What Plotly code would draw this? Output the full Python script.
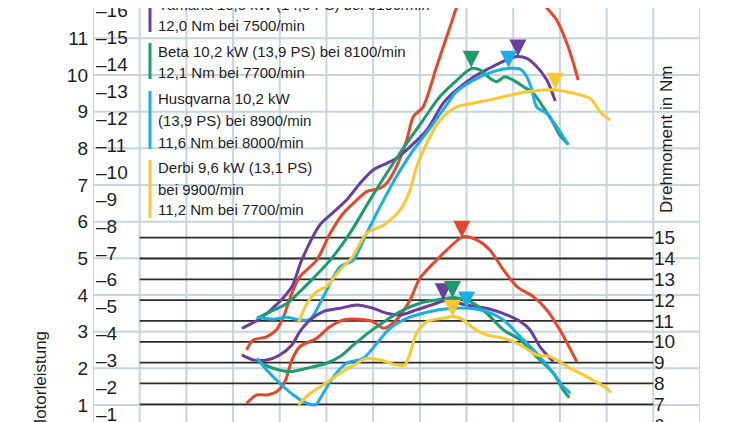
import plotly.graph_objects as go

# Leistungs- und Drehmomentkurven (Prüfstand)

W, H = 750, 422
OFF = 8                      # Seitenrand des Browsers (body margin)
L, R, T, B = 85, 58, 0, 0    # Plotfläche: 0 .. 13000 1/min

FONT = "Liberation Sans, Arial, sans-serif"
GRID = "#c5d4de"
INK = "#1e1e1e"

# --- Daten: Drehzahl (1/min), Leistung (kW), Drehmoment (Nm) ---
red_p_rpm = [3290, 3430, 3720, 3930, 4080, 4260, 4430, 4790, 5080, 5360, 5650, 5860, 6150, 6290,
             6500, 6720, 6860, 7070, 7360, 7650, 7860, 8290, 8720, 9000, 9230, 9470, 9510, 9570,
             9930, 10150, 10290, 10390]
red_p_kw = [2.50, 2.77, 2.86, 3.05, 3.41, 4.05, 4.50, 4.95, 5.68, 6.23, 6.59, 6.82, 6.91, 7.05,
            7.50, 8.23, 8.86, 9.13, 10.23, 11.32, 12.04, 12.53, 12.45, 12.04, 11.93, 12.04, 12.07, 12.02,
            11.50, 10.86, 10.32, 9.86]
red_t_rpm = [3290, 3510, 3720, 3930, 4110, 4260, 4430, 4790, 5080, 5360, 5720, 6000, 6220, 6500,
             6790, 7000, 7360, 7580, 7930, 8220, 8500, 8790, 9080, 9430, 9720, 10000, 10360]
red_t_nm = [7.05, 7.45, 7.45, 7.60, 8.08, 9.13, 9.77, 10.17, 10.73, 11.05, 11.08, 10.97, 10.65, 11.05,
            12.01, 13.05, 13.93, 14.41, 15.05, 14.89, 14.41, 13.45, 12.65, 12.17, 11.53, 10.57, 9.05]

yamaha_p_rpm = [3190, 3580, 4000, 4260, 4470, 4860, 5080, 5430, 5720, 6000, 6290, 6500, 6790, 7150,
                7500, 7710, 8140, 8500, 8860, 9080, 9290, 9500, 9720, 9900]
yamaha_p_kw = [3.09, 3.36, 3.82, 4.23, 4.95, 5.91, 6.18, 6.59, 7.05, 7.41, 7.59, 7.73, 8.04, 8.50,
               9.23, 9.51, 9.94, 10.19, 10.41, 10.50, 10.45, 10.23, 9.86, 9.29]
yamaha_t_rpm = [3190, 3430, 3720, 4000, 4260, 4430, 4650, 4930, 5290, 5650, 6000, 6290, 6580, 6930,
                7360, 7540, 8000, 8430, 8860, 9150, 9360, 9570, 9750, 9860]
yamaha_t_nm = [9.37, 9.13, 9.13, 9.37, 9.85, 10.49, 11.05, 11.45, 11.61, 11.77, 11.61, 11.37, 11.29, 11.53,
               11.85, 11.98, 11.77, 11.61, 11.29, 10.97, 10.57, 9.77, 9.29, 9.05]

beta_p_rpm = [3510, 3790, 4150, 4430, 4720, 5080, 5500, 5930, 6290, 6720, 7070, 7430, 7720, 8000,
              8110, 8290, 8500, 8650, 8820, 9000, 9220, 9430, 9640, 9860, 10000, 10170]
beta_p_kw = [3.36, 3.54, 3.77, 4.09, 4.46, 4.95, 5.68, 6.59, 7.32, 8.14, 8.77, 9.41, 9.77, 10.09,
             10.18, 10.14, 9.91, 9.82, 9.95, 9.86, 9.68, 9.50, 9.13, 8.68, 8.35, 8.12]
beta_t_rpm = [3540, 3860, 4220, 4580, 5000, 5290, 5580, 5930, 6290, 6650, 7000, 7360, 7720, 8080,
              8430, 8790, 9150, 9500, 9860, 10070, 10200]
beta_t_nm = [9.05, 8.73, 8.57, 8.73, 8.97, 9.29, 9.85, 10.49, 11.05, 11.53, 11.85, 12.01, 12.13, 11.93,
             11.37, 10.57, 10.09, 9.29, 8.49, 7.69, 7.32]

husq_p_rpm = [3510, 3860, 4150, 4430, 4650, 4860, 5080, 5290, 5570, 5860, 6150, 6500, 6860, 7220,
              7580, 7790, 8150, 8570, 8930, 9150, 9290, 9400, 9500, 9720, 9930, 10180]
husq_p_kw = [3.39, 3.34, 3.39, 3.32, 3.34, 3.77, 4.32, 4.77, 4.95, 5.68, 6.41, 7.23, 7.95, 8.55,
             9.20, 9.55, 9.86, 10.09, 10.18, 10.16, 9.95, 9.59, 9.13, 8.95, 8.59, 8.09]
husq_t_rpm = [3510, 3720, 4000, 4290, 4580, 4760, 4930, 5150, 5430, 5790, 6080, 6360, 6720, 7070,
              7500, 8080, 8430, 8790, 9150, 9500, 9860, 10070, 10220]
husq_t_nm = [9.21, 8.65, 8.01, 7.45, 7.05, 6.97, 7.53, 8.33, 8.97, 9.21, 9.93, 10.65, 11.13, 11.37,
             11.56, 11.61, 11.45, 11.05, 10.25, 9.45, 8.49, 7.85, 7.54]

derbi_p_rpm = [4400, 4580, 4790, 5000, 5290, 5540, 5860, 6220, 6580, 6790, 6930, 7150, 7360, 7500,
               7790, 8150, 8500, 8930, 9290, 9640, 9930, 10290, 10650, 10790, 10860, 11070]
derbi_p_kw = [3.23, 3.77, 4.09, 4.23, 4.68, 5.01, 5.68, 5.91, 6.32, 6.86, 7.50, 8.14, 8.64, 8.86,
              9.13, 9.23, 9.32, 9.45, 9.54, 9.59, 9.59, 9.50, 9.36, 9.13, 9.00, 8.77]
derbi_t_rpm = [4400, 4650, 4930, 5290, 5650, 5860, 6150, 6500, 6680, 6790, 6930, 7150, 7500, 7720,
               7930, 8150, 8430, 8790, 9150, 9500, 9790, 10220, 10570, 11000, 11090]
derbi_t_nm = [6.97, 7.53, 7.93, 8.49, 8.97, 9.21, 9.13, 8.89, 8.89, 9.45, 10.41, 10.97, 11.13, 11.21,
              11.05, 10.65, 10.33, 10.17, 9.85, 9.37, 9.29, 8.73, 8.33, 7.77, 7.56]

# Maxima (Dreiecke)
peak_kw_rpm = [9100, 8100, 8900, 9900]          # Yamaha, Beta, Husqvarna, Derbi
peak_kw = [10.5, 10.2, 10.2, 9.6]
peak_nm_rpm = [7900, 7500, 7700, 8000, 7700]    # rot, Yamaha, Beta, Husqvarna, Derbi
peak_nm = [15.0, 12.0, 12.1, 11.6, 11.2]

# Achsen
kw_ticks = list(range(1, 13))
ps_ticks = list(range(1, 17))
nm_ticks = list(range(6, 16))
nm_lines = list(range(7, 16))
rpm_grid = list(range(0, 13001, 1000))

legend_text = {
    "yamaha": ["Yamaha 10,5 kW (14,3 PS) bei 9100/min", "12,0 Nm bei 7500/min"],
    "beta": ["Beta 10,2 kW (13,9 PS) bei 8100/min", "12,1 Nm bei 7700/min"],
    "husq": ["Husqvarna 10,2 kW", "(13,9 PS) bei 8900/min", "11,6 Nm bei 8000/min"],
    "derbi": ["Derbi 9,6 kW (13,1 PS)", "bei 9900/min", "11,2 Nm bei 7700/min"],
}

colors = {"red": "#e8462b", "yamaha": "#6b3d9c", "beta": "#1c9c6c",
          "husq": "#1aaee6", "derbi": "#fbc731"}

KW_RANGE = [0.318, 11.826]
NM_RANGE = [5.766, 26.025]
KW_PER_PS = 0.7355


def px(x):
    # Fensterpixel -> Papierkoordinate
    return (x - OFF - L) / (W - L - R)


def py(y):
    return 1 - (y - OFF - T) / (H - T - B)


fig = go.Figure()

curves = [
    ("red", red_p_rpm, red_p_kw, red_t_rpm, red_t_nm),
    ("yamaha", yamaha_p_rpm, yamaha_p_kw, yamaha_t_rpm, yamaha_t_nm),
    ("beta", beta_p_rpm, beta_p_kw, beta_t_rpm, beta_t_nm),
    ("husq", husq_p_rpm, husq_p_kw, husq_t_rpm, husq_t_nm),
    ("derbi", derbi_p_rpm, derbi_p_kw, derbi_t_rpm, derbi_t_nm),
]

for key, prpm, pkw, trpm, tnm in curves:
    fig.add_trace(go.Scatter(
        x=prpm, y=pkw, mode="lines", yaxis="y",
        line=dict(color=colors[key], width=3, shape="spline", smoothing=0.8),
        hoverinfo="skip", showlegend=False,
    ))

for key, prpm, pkw, trpm, tnm in curves:
    fig.add_trace(go.Scatter(
        x=trpm, y=tnm, mode="lines", yaxis="y2",
        line=dict(color=colors[key], width=3, shape="spline", smoothing=0.8),
        hoverinfo="skip", showlegend=False,
    ))

# PS-Skala braucht eine (leere) Spur, damit die Achse gezeichnet wird
fig.add_trace(go.Scatter(x=[None], y=[None], yaxis="y3", mode="lines",
                         hoverinfo="skip", showlegend=False))

# Dreiecke an den Maxima
kw_keys = ["yamaha", "beta", "husq", "derbi"]
for k, r, v in zip(kw_keys, peak_kw_rpm, peak_kw):
    fig.add_trace(go.Scatter(
        x=[r], y=[v], mode="markers", yaxis="y",
        marker=dict(symbol="arrow-down", size=17, color=colors[k], line=dict(width=0)),
        hoverinfo="skip", showlegend=False,
    ))
nm_keys = ["red", "yamaha", "beta", "husq", "derbi"]
for k, r, v in zip(nm_keys, peak_nm_rpm, peak_nm):
    fig.add_trace(go.Scatter(
        x=[r], y=[v], mode="markers", yaxis="y2",
        marker=dict(symbol="arrow-down", size=17, color=colors[k], line=dict(width=0)),
        hoverinfo="skip", showlegend=False,
    ))

# Raster als Shapes (unter den Kurven), darüber die schwarzen Drehmoment-Linien
shapes = []
for r in rpm_grid:
    shapes.append(dict(type="line", xref="x", yref="paper", x0=r, x1=r, y0=0, y1=1,
                       line=dict(color=GRID, width=2), layer="below"))
for v in kw_ticks:
    shapes.append(dict(type="line", xref="paper", yref="y", x0=0, x1=1, y0=v, y1=v,
                       line=dict(color=GRID, width=2), layer="below"))
for v in nm_lines:
    shapes.append(dict(type="line", xref="x", yref="y2", x0=1000, x1=12000, y0=v, y1=v,
                       line=dict(color="#2b2b2b", width=1.8), layer="below"))

# Legende: Farbbalken + Text (Fensterpixel)
legend_y = {
    "yamaha": [5, 25],
    "beta": [52, 72],
    "husq": [99, 120, 142],
    "derbi": [168, 189, 210],
}
bar_y = {"yamaha": (8, 32), "beta": (43, 79), "husq": (91, 149), "derbi": (160, 218)}
annotations = []
for key, lines in legend_text.items():
    for txt, yc in zip(lines, legend_y[key]):
        annotations.append(dict(
            text=txt, x=px(157), y=py(yc), xref="paper", yref="paper",
            xanchor="left", yanchor="middle", showarrow=False, borderpad=0,
            font=dict(family=FONT, size=15, color=INK),
        ))
    y0, y1 = bar_y[key]
    shapes.append(dict(type="line", xref="paper", yref="paper",
                       x0=px(150), x1=px(150), y0=py(y0), y1=py(y1),
                       line=dict(color=colors[key], width=3)))

annotations.append(dict(
    text="Motorleistung", x=px(40), y=py(382), xref="paper", yref="paper",
    textangle=-90, showarrow=False, xanchor="center", yanchor="middle",
    font=dict(family=FONT, size=17, color=INK),
))
annotations.append(dict(
    text="Drehmoment in Nm", x=px(666), y=py(140), xref="paper", yref="paper",
    textangle=-90, showarrow=False, xanchor="center", yanchor="middle",
    font=dict(family=FONT, size=17, color=INK),
))

fig.update_layout(
    width=W, height=H,
    margin=dict(l=L, r=R, t=T, b=B, pad=0, autoexpand=False),
    paper_bgcolor="white", plot_bgcolor="white",
    font=dict(family=FONT, size=19, color=INK),
    xaxis=dict(range=[0, 13000], tickvals=rpm_grid, showticklabels=False, ticks="",
               showgrid=False, zeroline=False, automargin=False),
    yaxis=dict(range=KW_RANGE, tickvals=kw_ticks, showgrid=False, zeroline=False, ticks="",
               showline=False, automargin=False, ticklabelstandoff=4,
               ticklabeloverflow="allow", tickfont=dict(size=19, color=INK)),
    yaxis2=dict(range=NM_RANGE, tickvals=nm_ticks, overlaying="y", anchor="free",
                position=px(653), side="right", showgrid=False, zeroline=False, ticks="",
                showline=False, automargin=False, ticklabeloverflow="allow",
                tickfont=dict(size=19, color=INK)),
    yaxis3=dict(range=[KW_RANGE[0] / KW_PER_PS, KW_RANGE[1] / KW_PER_PS], tickvals=ps_ticks,
                ticktext=["–%d" % v for v in ps_ticks], overlaying="y", anchor="free",
                position=0, side="right", showgrid=False, zeroline=False, ticks="",
                showline=False, automargin=False, ticklabelstandoff=2,
                ticklabeloverflow="allow", tickfont=dict(size=19, color=INK)),
    shapes=shapes,
    annotations=annotations,
)

fig.write_html("out.html")
